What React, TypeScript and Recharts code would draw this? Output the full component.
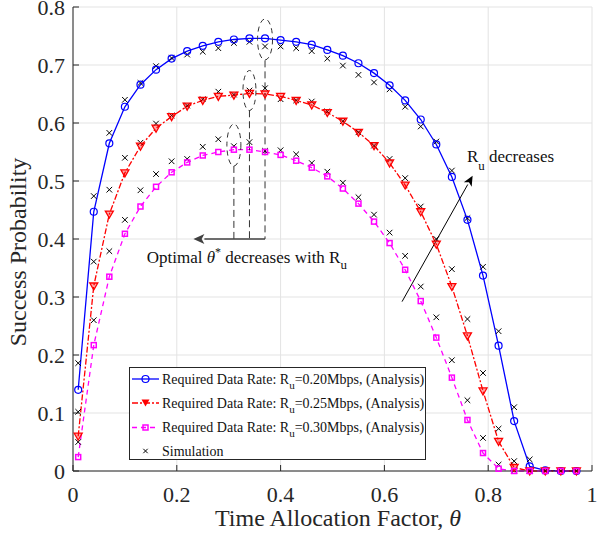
import {
  ComposedChart,
  Line,
  Scatter,
  XAxis,
  YAxis,
  CartesianGrid,
  ReferenceLine,
  ReferenceDot,
  Legend,
} from "recharts";

// time allocation factor (x) for every marker
const theta = [
  0.01, 0.04, 0.07, 0.1, 0.13, 0.16, 0.19, 0.22, 0.25, 0.28, 0.31, 0.34, 0.37, 0.4, 0.43, 0.46, 0.49,
  0.52, 0.55, 0.58, 0.61, 0.64, 0.67, 0.7, 0.73, 0.76, 0.79, 0.82, 0.85, 0.88, 0.91, 0.94, 0.97,
];

// analysis curves, Ru = 0.20 / 0.25 / 0.30 Mbps
const analysis020 = [
  0.14, 0.447, 0.565, 0.628, 0.666, 0.692, 0.711, 0.724, 0.733, 0.74, 0.744, 0.746, 0.746, 0.743, 0.74,
  0.735, 0.726, 0.716, 0.703, 0.686, 0.665, 0.639, 0.606, 0.563, 0.507, 0.433, 0.337, 0.216, 0.086,
  0.008, 0.001, 0, 0,
];
const analysis025 = [
  0.06, 0.319, 0.443, 0.514, 0.56, 0.591, 0.611, 0.629, 0.639, 0.646, 0.648, 0.651, 0.65, 0.646, 0.639,
  0.631, 0.618, 0.603, 0.584, 0.561, 0.531, 0.493, 0.447, 0.391, 0.318, 0.233, 0.138, 0.051, 0.006, 0,
  0, 0, 0,
];
const analysis030 = [
  0.024, 0.217, 0.335, 0.409, 0.456, 0.49, 0.515, 0.532, 0.544, 0.55, 0.554, 0.554, 0.55, 0.545, 0.535,
  0.523, 0.508, 0.487, 0.461, 0.43, 0.393, 0.347, 0.293, 0.23, 0.161, 0.088, 0.031, 0.004, 0, 0, 0, 0, 0,
];

// simulation points
const sim020 = [
  0.186, 0.474, 0.583, 0.64, 0.669, 0.698, 0.712, 0.718, 0.723, 0.729, 0.738, 0.74, 0.732, 0.732, 0.729,
  0.724, 0.711, 0.699, 0.683, 0.67, 0.658, 0.628, 0.594, 0.568, 0.518, 0.436, 0.352, 0.241, 0.11, 0.02,
  0.001, 0, 0,
];
const sim025 = [
  0.102, 0.361, 0.485, 0.54, 0.566, 0.599, 0.613, 0.63, 0.641, 0.654, 0.649, 0.656, 0.66, 0.641, 0.639,
  0.637, 0.62, 0.603, 0.584, 0.561, 0.538, 0.505, 0.456, 0.4, 0.348, 0.262, 0.169, 0.073, 0.017, 0.001,
  0, 0, 0,
];
const sim030 = [
  0.05, 0.26, 0.379, 0.433, 0.484, 0.512, 0.534, 0.538, 0.559, 0.572, 0.56, 0.567, 0.552, 0.553, 0.546,
  0.531, 0.516, 0.497, 0.472, 0.442, 0.411, 0.371, 0.318, 0.265, 0.191, 0.122, 0.057, 0.011, 0.001, 0,
  0, 0, 0,
];

const xTicks = [0, 0.2, 0.4, 0.6, 0.8, 1];
const yTicks = [0, 0.1, 0.2, 0.3, 0.4, 0.5, 0.6, 0.7, 0.8];
const rates = ["0.20", "0.25", "0.30"];

const serif = "'Liberation Serif', 'Times New Roman', serif";
const axisColor = "#262626";
const BLUE = "#0000ff";
const RED = "#ff0000";
const MAGENTA = "#ff00ff";

const toPoints = (ys: number[]) => theta.map((x, i) => ({ x, y: ys[i] }));
const simPoints = [...toPoints(sim020), ...toPoints(sim025), ...toPoints(sim030)];

const CircleDot = (p: any) =>
  p.cx == null ? null : (
    <circle key={p.index} cx={p.cx} cy={p.cy} r={3.5} fill="none" stroke={BLUE} strokeWidth={1.2} />
  );
const TriangleDot = (p: any) =>
  p.cx == null ? null : (
    <polygon
      key={p.index}
      points={`${p.cx - 4},${p.cy - 3} ${p.cx + 4},${p.cy - 3} ${p.cx},${p.cy + 4}`}
      fill="rgba(255,0,0,0.35)"
      stroke={RED}
      strokeWidth={1.3}
    />
  );
const SquareDot = (p: any) =>
  p.cx == null ? null : (
    <rect key={p.index} x={p.cx - 2.5} y={p.cy - 2.5} width={5} height={5} fill="none" stroke={MAGENTA} strokeWidth={1.5} />
  );
const crossPath = (cx: number, cy: number, s: number) =>
  `M${cx - s},${cy - s}L${cx + s},${cy + s}M${cx - s},${cy + s}L${cx + s},${cy - s}`;
const Cross = (p: any) => <path d={crossPath(p.cx, p.cy, 2.8)} stroke="#000" strokeWidth={1} />;

const XTickBottom = (p: any) => (
  <g>
    <line x1={p.x} y1={p.y} x2={p.x} y2={p.y - 6} stroke={axisColor} />
    <text x={p.x} y={p.y + 31} textAnchor="middle" fontFamily={serif} fontSize={22} fill={axisColor}>
      {p.payload.value}
    </text>
  </g>
);
const XTickTop = (p: any) => <line x1={p.x} y1={p.y} x2={p.x} y2={p.y + 6} stroke={axisColor} />;
const YTickLeft = (p: any) => (
  <g>
    <line x1={p.x} y1={p.y} x2={p.x + 6} y2={p.y} stroke={axisColor} />
    <text x={p.x - 8} y={p.y + 7.5} textAnchor="end" fontFamily={serif} fontSize={22} fill={axisColor}>
      {p.payload.value}
    </text>
  </g>
);
const YTickRight = (p: any) => <line x1={p.x} y1={p.y} x2={p.x - 6} y2={p.y} stroke={axisColor} />;

const Ellipse = (rx: number, ry: number) => (p: any) =>
  <ellipse cx={p.cx} cy={p.cy} rx={rx} ry={ry} fill="none" stroke="#333" strokeWidth={1} strokeDasharray="5 4" />;

const Arrow = (color: string, width: number, head: number) => (p: any) => {
  const { x1, y1, x2, y2 } = p;
  const a = Math.atan2(y2 - y1, x2 - x1);
  const bx = x2 - head * Math.cos(a);
  const by = y2 - head * Math.sin(a);
  const w = head * 0.45;
  return (
    <g>
      <line x1={x1} y1={y1} x2={bx} y2={by} stroke={color} strokeWidth={width} />
      <polygon
        points={`${x2},${y2} ${bx + w * Math.sin(a)},${by - w * Math.cos(a)} ${bx + head * 0.25 * Math.cos(a)},${by + head * 0.25 * Math.sin(a)} ${bx - w * Math.sin(a)},${by + w * Math.cos(a)}`}
        fill={color}
      />
    </g>
  );
};

const OptimalText = (p: any) => (
  <text x={p.cx} y={p.cy} fontFamily={serif} fontSize={17} fill="#111">
    Optimal <tspan fontStyle="italic">θ</tspan>
    <tspan dy={-7} fontSize={12}>*</tspan>
    <tspan dy={7}> decreases with R</tspan>
    <tspan dy={6} fontSize={13}>u</tspan>
  </text>
);
const RuText = (p: any) => (
  <text x={p.cx} y={p.cy} fontFamily={serif} fontSize={17} fill="#111">
    R<tspan dy={8} fontSize={13}>u</tspan>
    <tspan dy={-8}> decreases</tspan>
  </text>
);

const LegendBox = () => {
  const rows = [
    { color: BLUE, dash: undefined, dot: CircleDot },
    { color: RED, dash: "6 2 2 2", dot: TriangleDot },
    { color: MAGENTA, dash: "5 4", dot: SquareDot },
  ];
  const rowY = [12, 36, 60.5, 84];
  return (
    <svg width={297} height={93} style={{ display: "block" }}>
      <rect x={0.5} y={0.5} width={296} height={92} fill="#fff" stroke={axisColor} />
      {rows.map((r, i) => (
        <g key={i}>
          <line x1={3} y1={rowY[i]} x2={30} y2={rowY[i]} stroke={r.color} strokeWidth={1.3} strokeDasharray={r.dash} />
          {i === 1 ? (
            <polygon points={`12.5,${rowY[i] - 3.5} 20.5,${rowY[i] - 3.5} 16.5,${rowY[i] + 3.5}`} fill={RED} />
          ) : (
            r.dot({ cx: 16.5, cy: rowY[i], index: i })
          )}
          <text x={33} y={rowY[i] + 4.5} fontFamily={serif} fontSize={14} fill="#111">
            Required Data Rate: R<tspan dy={5} fontSize={11}>u</tspan>
            <tspan dy={-5}>={rates[i]}Mbps, (Analysis)</tspan>
          </text>
        </g>
      ))}
      <path d={crossPath(16.5, rowY[3], 2.2)} stroke="#000" strokeWidth={1} />
      <text x={33} y={rowY[3] + 4.5} fontFamily={serif} fontSize={14} fill="#111">
        Simulation
      </text>
    </svg>
  );
};

export default function App() {
  return (
    <div style={{ position: "absolute", left: 0, top: 0, background: "#fff" }}>
      <ComposedChart width={607} height={539} margin={{ top: 7, right: 15, bottom: 0, left: 0 }}>
        <CartesianGrid stroke="#e3e3e3" />
        <XAxis
          dataKey="x"
          type="number"
          domain={[0, 1]}
          ticks={xTicks}
          interval={0}
          tickSize={0}
          tickMargin={0}
          tickLine={false}
          axisLine={{ stroke: axisColor }}
          tick={<XTickBottom />}
          height={68}
          label={() => (
            <text x={338} y={526} textAnchor="middle" fontFamily={serif} fontSize={24} fill={axisColor}>
              Time Allocation Factor, <tspan fontStyle="italic">θ</tspan>
            </text>
          )}
        />
        <XAxis
          xAxisId="top"
          orientation="top"
          type="number"
          domain={[0, 1]}
          ticks={xTicks}
          interval={0}
          tickSize={0}
          tickMargin={0}
          tickLine={false}
          axisLine={{ stroke: axisColor }}
          tick={<XTickTop />}
          height={0}
        />
        <YAxis
          type="number"
          domain={[0, 0.8]}
          ticks={yTicks}
          interval={0}
          tickSize={0}
          tickMargin={0}
          tickLine={false}
          axisLine={{ stroke: axisColor }}
          tick={<YTickLeft />}
          width={73}
          label={() => (
            <text
              x={26}
              y={252}
              transform="rotate(-90 26 252)"
              textAnchor="middle"
              fontFamily={serif}
              fontSize={24}
              fill={axisColor}
            >
              Success Probability
            </text>
          )}
        />
        <YAxis
          yAxisId="right"
          orientation="right"
          type="number"
          domain={[0, 0.8]}
          ticks={yTicks}
          interval={0}
          tickSize={0}
          tickMargin={0}
          tickLine={false}
          axisLine={{ stroke: axisColor }}
          tick={<YTickRight />}
          width={0}
        />

        <Line
          data={toPoints(analysis020)}
          dataKey="y"
          type="linear"
          stroke={BLUE}
          strokeWidth={1.3}
          dot={CircleDot}
          isAnimationActive={false}
        />
        <Line
          data={toPoints(analysis025)}
          dataKey="y"
          type="linear"
          stroke={RED}
          strokeWidth={1.3}
          strokeDasharray="6 2 2 2"
          dot={TriangleDot}
          isAnimationActive={false}
        />
        <Line
          data={toPoints(analysis030)}
          dataKey="y"
          type="linear"
          stroke={MAGENTA}
          strokeWidth={1.3}
          strokeDasharray="5 4"
          dot={SquareDot}
          isAnimationActive={false}
        />
        <Scatter data={simPoints} dataKey="y" shape={Cross} isAnimationActive={false} />

        {/* optimal theta markers */}
        <ReferenceDot x={0.37} y={0.744} shape={Ellipse(7.5, 20.5)} />
        <ReferenceDot x={0.34} y={0.656} shape={Ellipse(6.5, 20)} />
        <ReferenceDot x={0.31} y={0.562} shape={Ellipse(7, 21)} />
        <ReferenceLine segment={[{ x: 0.37, y: 0.708 }, { x: 0.37, y: 0.4 }]} stroke="#333" strokeDasharray="7 4" />
        <ReferenceLine segment={[{ x: 0.34, y: 0.622 }, { x: 0.34, y: 0.4 }]} stroke="#333" strokeDasharray="7 4" />
        <ReferenceLine segment={[{ x: 0.31, y: 0.526 }, { x: 0.31, y: 0.4 }]} stroke="#333" strokeDasharray="7 4" />
        <ReferenceLine
          segment={[{ x: 0.37, y: 0.4 }, { x: 0.232, y: 0.4 }]}
          shape={Arrow("#404040", 1.6, 11)}
        />
        <ReferenceDot x={0.142} y={0.359} shape={OptimalText} />

        <ReferenceLine
          segment={[{ x: 0.634, y: 0.292 }, { x: 0.77, y: 0.509 }]}
          shape={Arrow("#000", 1, 10)}
        />
        <ReferenceDot x={0.759} y={0.533} shape={RuText} />

        <Legend
          layout="vertical"
          align="center"
          verticalAlign="middle"
          content={<LegendBox />}
          wrapperStyle={{ left: 129, top: 367, width: 297, height: 93 }}
        />
      </ComposedChart>
    </div>
  );
}
